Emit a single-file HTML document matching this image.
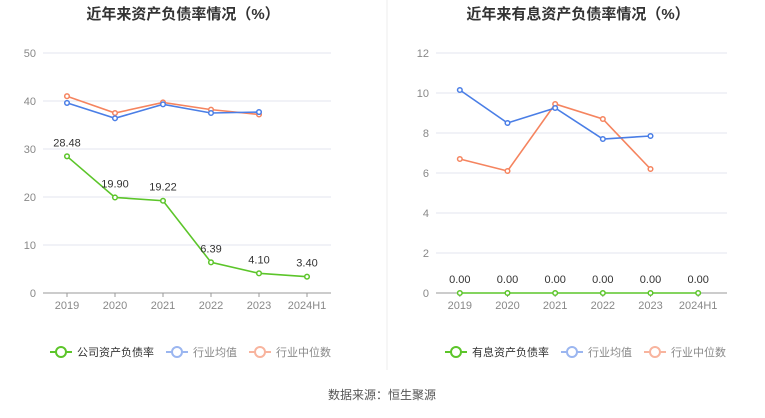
<!DOCTYPE html>
<html><head><meta charset="utf-8"><style>
body{margin:0;background:#fff;width:765px;height:413px;overflow:hidden;font-family:"Liberation Sans","Noto Sans CJK SC",sans-serif;}
</style></head><body>
<svg id="c" width="765" height="413" xmlns="http://www.w3.org/2000/svg" font-family="Liberation Sans, Noto Sans CJK SC, sans-serif"></svg>
<script>
const categories=["2019","2020","2021","2022","2023","2024H1"];
const leftCompany=[28.48,19.90,19.22,6.39,4.10,3.40];
const leftAvg=[39.6,36.4,39.3,37.5,37.7];
const leftMedian=[41.0,37.5,39.7,38.2,37.2];
const leftTicks=[0,10,20,30,40,50];
const rightCompany=[0,0,0,0,0,0];
const rightAvg=[10.15,8.5,9.25,7.7,7.85];
const rightMedian=[6.7,6.1,9.45,8.7,6.2];
const rightTicks=[0,2,4,6,8,10,12];
const NS="http://www.w3.org/2000/svg";
const svg=document.getElementById('c');
function el(t,a,p){const e=document.createElementNS(NS,t);for(const k in a)e.setAttribute(k,a[k]);(p||svg).appendChild(e);return e;}
function chart(o){
  const g=el('g',{});
  
  
  const x0=o.x0,x1=o.x1,yT=53,yB=293,max=o.ticks[o.ticks.length-1];
  const n=categories.length,step=(x1-x0)/n;
  const X=i=>x0+step*(i+0.5),Y=v=>yB-(v/max)*(yB-yT);
  const t=el('text',{x:o.titleX,y:19,'text-anchor':'middle','font-size':15,'font-weight':'bold',fill:'#333'},g);t.textContent=o.title;
  
  o.ticks.forEach(v=>{
    const l=el('line',{x1:x0,x2:o.gx1,y1:Y(v),y2:Y(v),stroke:v===0?'#999':'#e3e6ef','stroke-width':1},g);
    
    const tx=el('text',{x:x0-7,y:Y(v)+4,'text-anchor':'end','font-size':11,fill:'#888'},g);tx.textContent=v;
    
  });
  categories.forEach((c,i)=>{
    el('line',{x1:X(i),x2:X(i),y1:yB,y2:yB+4,stroke:'#999'},g);
    const tx=el('text',{x:X(i),y:yB+16,'text-anchor':'middle','font-size':11,fill:'#888'},g);tx.textContent=c;
    
  });
  function series(d,col,nm,labels){
    const p=el('polyline',{points:d.map((v,i)=>X(i)+','+Y(v)).join(' '),fill:'none',stroke:col,'stroke-width':1.6},g);
    
    d.forEach((v,i)=>{
      const c=el('circle',{cx:X(i),cy:Y(v),r:2.3,fill:'#fff',stroke:col,'stroke-width':1.5},g);
      
      if(labels){const tx=el('text',{x:X(i),y:Y(v)-10,'text-anchor':'middle','font-size':11,fill:'#333'},g);tx.textContent=v.toFixed(2);
        }
    });
  }
  series(o.median,'#f5845f','median');
  series(o.avg,'#4a7ee6','average');
  series(o.comp,'#5cc52a','company',true);
  const ly=352;let lx=o.legX;
  [[o.compName,'#5cc52a','#333'],['行业均值','#9bb6f0','#888'],['行业中位数','#f8b49e','#888']].forEach(([txt,col,tc])=>{
    const lg=el('g',{},g);
    el('line',{x1:lx,x2:lx+22,y1:ly,y2:ly,stroke:col,'stroke-width':2},lg);
    el('circle',{cx:lx+11,cy:ly,r:5,fill:'#fff',stroke:col,'stroke-width':2},lg);
    const tx=el('text',{x:lx+27,y:ly+4,'font-size':11,fill:tc},lg);tx.textContent=txt;
    lx+=27+txt.length*11+12;
  });
}
chart({name:'left-chart',x0:43,x1:331,gx1:331,titleX:183,ticks:leftTicks,comp:leftCompany,avg:leftAvg,median:leftMedian,title:'近年来资产负债率情况（%）',compName:'公司资产负债率',legX:50});
chart({name:'right-chart',x0:436,x1:722,gx1:727,titleX:578,ticks:rightTicks,comp:rightCompany,avg:rightAvg,median:rightMedian,title:'近年来有息资产负债率情况（%）',compName:'有息资产负债率',legX:445});
const d=el('line',{x1:387,x2:387,y1:0,y2:370,stroke:'#eee'});
const s=el('text',{x:382,y:399,'text-anchor':'middle','font-size':12,fill:'#555'});s.textContent='数据来源：恒生聚源';

</script>
</body></html>
